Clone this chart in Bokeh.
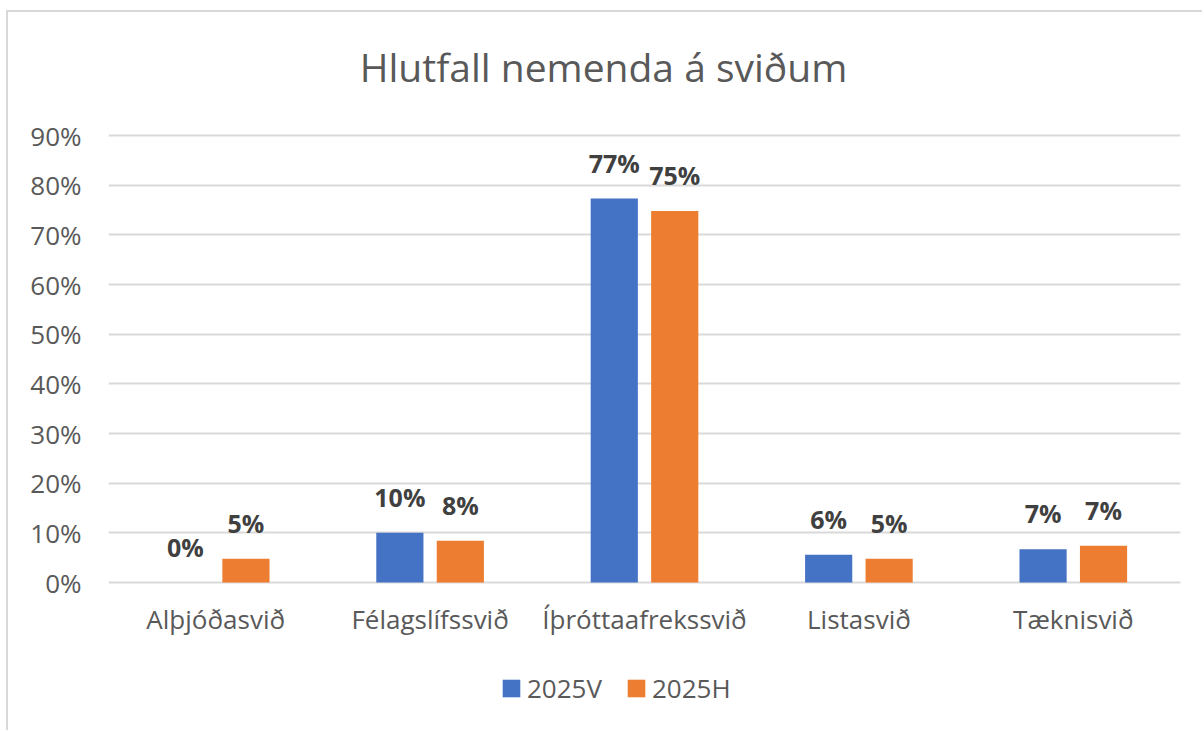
from bokeh.plotting import figure
from bokeh.models import (ColumnDataSource, FactorRange, FixedTicker, PrintfTickFormatter,
                          Legend, LegendItem, Range1d, Label)
from bokeh.transform import dodge
from bokeh.core.properties import value
from bokeh.embed import file_html
from bokeh.resources import INLINE

categories = ["Alþjóðasvið", "Félagslífssvið", "Íþróttaafrekssvið", "Listasvið", "Tæknisvið"]
series_names = ["2025V", "2025H"]
v2025V = [0.0, 10.0, 77.3, 5.6, 6.7]
v2025H = [4.8, 8.4, 74.8, 4.8, 7.4]
y_ticks = [0, 10, 20, 30, 40, 50, 60, 70, 80, 90]
title_text = "Hlutfall nemenda á sviðum"

FONT = "Open Sans"
GRAY = "#595959"
BLUE = "#4472C4"
ORANGE = "#ED7D31"

# layout (pixels): frame spans the whole canvas height; value axis 0..90 occupies a band of it
W, H = 1196, 720
TOP_PX, ZERO_PX, FRAME_BOTTOM = 123, 570, 718
px_per_unit = (ZERO_PX - TOP_PX) / 90.0
y_max = 90 + TOP_PX / px_per_unit
y_min = -(FRAME_BOTTOM - ZERO_PX) / px_per_unit

src = ColumnDataSource(dict(
    cat=categories,
    v=v2025V,
    h=v2025H,
    vl=[f"{round(x):d}%" for x in v2025V],
    hl=[f"{round(x):d}%" for x in v2025H],
    zero=[0] * len(categories),
))

p = figure(width=W, height=H, x_range=FactorRange(*categories, range_padding=0),
           y_range=Range1d(y_min, y_max), output_backend="svg", toolbar_location=None,
           min_border_left=100, min_border_right=24, min_border_top=0,
           min_border_bottom=H - FRAME_BOTTOM)
p.outline_line_color = None
p.background_fill_color = "white"
p.border_fill_color = "white"
p.styles = {"border-left": "2px solid #d9d9d9", "border-top": "2px solid #d9d9d9",
            "margin-left": "6px", "margin-top": "10px"}

p.xgrid.grid_line_color = None
p.ygrid.grid_line_color = "#d9d9d9"
p.ygrid.grid_line_width = 2
p.ygrid.ticker = FixedTicker(ticks=y_ticks)

r1 = p.vbar(x=dodge("cat", -0.141, range=p.x_range), top="v", width=0.22, source=src,
            fill_color=BLUE, line_color=None)
r2 = p.vbar(x=dodge("cat", 0.141, range=p.x_range), top="h", width=0.22, source=src,
            fill_color=ORANGE, line_color=None)

for off, ycol, col in [(-0.141, "v", "vl"), (0.141, "h", "hl")]:
    p.text(x=dodge("cat", off, range=p.x_range), y=ycol, text=col,
           source=src, text_align="center", text_baseline="alphabetic", y_offset=-36,
           text_font=value(FONT), text_font_style="bold", text_font_size="25px",
           text_color="#404040")

# category labels
p.text(x="cat", y="zero", text="cat", source=src, text_align="center",
       text_baseline="alphabetic", y_offset=36, text_font=value(FONT),
       text_font_size="26px", text_color=GRAY)

# axes
p.xaxis.visible = False
p.yaxis.ticker = FixedTicker(ticks=y_ticks)
p.yaxis.formatter = PrintfTickFormatter(format="%d%%")
ax = p.yaxis[0]
ax.axis_line_color = None
ax.major_tick_line_color = None
ax.minor_tick_line_color = None
ax.major_tick_out = 0
ax.major_tick_in = 0
ax.major_label_text_font = FONT
ax.major_label_text_font_size = "26px"
ax.major_label_text_color = GRAY
ax.major_label_standoff = 27

# title
p.add_layout(Label(x=495, y=FRAME_BOTTOM - 54, x_units="screen", y_units="screen",
                   text=title_text, text_align="center", text_baseline="alphabetic",
                   text_font=FONT, text_font_size="39px", text_color=GRAY))

# legend
legend = Legend(items=[LegendItem(label=series_names[0], renderers=[r1]),
                       LegendItem(label=series_names[1], renderers=[r2])],
                orientation="horizontal", location=(392, 24),
                glyph_width=22, glyph_height=22, label_standoff=5, spacing=23,
                padding=0, margin=0, border_line_color=None, background_fill_alpha=0,
                label_text_font=FONT, label_text_font_size="26px", label_text_color=GRAY)
p.add_layout(legend, "center")

open("out.html", "w").write(file_html(p, INLINE))
